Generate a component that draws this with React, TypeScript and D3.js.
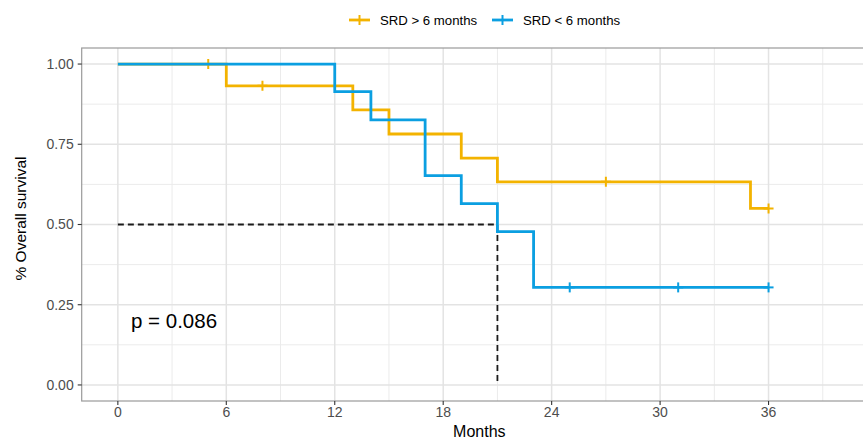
import React from "react";
import * as d3 from "d3";

// Data (step curves): times of change and survival after change
const groups = ["SRD > 6 months", "SRD < 6 months"];
const colors = ["#F3B300", "#0B9FE1"];

const srdLongTimes = [0, 6, 13, 15, 19, 21, 35, 36];
const srdLongSurv = [1.0, 0.932, 0.857, 0.782, 0.707, 0.633, 0.55, 0.55];
const srdLongCensorTimes = [5, 8, 27, 36];

const srdShortTimes = [0, 12, 14, 17, 19, 21, 23, 36];
const srdShortSurv = [1.0, 0.914, 0.826, 0.652, 0.565, 0.478, 0.304, 0.304];
const srdShortCensorTimes = [25, 31, 36];

const xTicks = [0, 6, 12, 18, 24, 30, 36];
const yTicks = [0, 0.25, 0.5, 0.75, 1.0];
const xMinor = [3, 9, 15, 21, 27, 33, 39];
const yMinor = [0.125, 0.375, 0.625, 0.875];
const medianTime = 21;
const pValueLabel = "p = 0.086";

const W = 863;
const H = 439;
const left = 81.7;
const right = 877;
const top = 48;
const bottom = 401;

function survAt(times: number[], surv: number[], t: number) {
  let v = surv[0];
  for (let i = 0; i < times.length; i++) if (times[i] <= t) v = surv[i];
  return v;
}

export default function App() {
  const x = d3.scaleLinear().domain([-2, 42]).range([left, right]);
  const y = d3.scaleLinear().domain([-0.05, 1.05]).range([bottom, top]);
  const line = d3
    .line<[number, number]>()
    .x((d) => x(d[0]))
    .y((d) => y(d[1]))
    .curve(d3.curveStepAfter);

  const series = [
    { times: srdLongTimes, surv: srdLongSurv, cens: srdLongCensorTimes },
    { times: srdShortTimes, surv: srdShortSurv, cens: srdShortCensorTimes },
  ];

  const font = "Liberation Sans, Arial, sans-serif";

  return (
    <svg
      width={W}
      height={H}
      style={{ position: "absolute", left: 0, top: 0, background: "#fff" }}
      fontFamily={font}
    >
      <defs>
        <clipPath id="panel">
          <rect x={left} y={top} width={right - left} height={bottom - top} />
        </clipPath>
      </defs>
      {/* grid */}
      <g clipPath="url(#panel)">
        {xMinor.map((t) => (
          <line key={"xm" + t} x1={x(t)} x2={x(t)} y1={top} y2={bottom} stroke="#EBEBEB" strokeWidth={1} />
        ))}
        {yMinor.map((t) => (
          <line key={"ym" + t} x1={left} x2={right} y1={y(t)} y2={y(t)} stroke="#EBEBEB" strokeWidth={1} />
        ))}
        {xTicks.map((t) => (
          <line key={"xg" + t} x1={x(t)} x2={x(t)} y1={top} y2={bottom} stroke="#E3E3E3" strokeWidth={1.5} />
        ))}
        {yTicks.map((t) => (
          <line key={"yg" + t} x1={left} x2={right} y1={y(t)} y2={y(t)} stroke="#E3E3E3" strokeWidth={1.5} />
        ))}
        {/* median lines */}
        <path
          d={`M${x(0)},${y(0.5)}H${x(medianTime)}V${y(0)}`}
          fill="none"
          stroke="#1a1a1a"
          strokeWidth={1.8}
          strokeDasharray="6,4"
        />
        {series.map((s, i) => (
          <g key={i}>
            <path
              d={line(s.times.map((t, j) => [t, s.surv[j]] as [number, number])) || ""}
              fill="none"
              stroke={colors[i]}
              strokeWidth={2.8}
            />
            {s.cens.map((t) => {
              const cx = x(t);
              const cy = y(survAt(s.times, s.surv, t));
              return (
                <g key={t} stroke={colors[i]} strokeWidth={2}>
                  <line x1={cx - 5} x2={cx + 5} y1={cy} y2={cy} />
                  <line x1={cx} x2={cx} y1={cy - 5} y2={cy + 5} />
                </g>
              );
            })}
          </g>
        ))}
      </g>
      {/* panel border */}
      <rect x={left} y={top} width={right - left} height={bottom - top} fill="none" stroke="#9A9A9A" strokeWidth={1.2} />
      {/* y axis */}
      {yTicks.map((t) => (
        <g key={"yt" + t}>
          <line x1={left - 4} x2={left} y1={y(t)} y2={y(t)} stroke="#333" strokeWidth={1.1} />
          <text x={left - 8} y={y(t)} dy="0.35em" textAnchor="end" fontSize={14} fill="#4D4D4D">
            {t.toFixed(2)}
          </text>
        </g>
      ))}
      {/* x axis */}
      {xTicks.map((t) => (
        <g key={"xt" + t}>
          <line x1={x(t)} x2={x(t)} y1={bottom} y2={bottom + 4} stroke="#333" strokeWidth={1.1} />
          <text x={x(t)} y={bottom + 16} textAnchor="middle" fontSize={14} fill="#4D4D4D">
            {t}
          </text>
        </g>
      ))}
      <text x={(left + right) / 2} y={437} textAnchor="middle" fontSize={16} fill="#000">
        Months
      </text>
      <text
        transform={`translate(26,${(top + bottom) / 2 - 6}) rotate(-90)`}
        textAnchor="middle"
        fontSize={15.5}
        fill="#000"
      >
        % Overall survival
      </text>
      {/* p value */}
      <text x={131} y={328} fontSize={20.5} fill="#000">
        {pValueLabel}
      </text>
      {/* legend */}
      {groups.map((g, i) => {
        const lx = [349, 492][i];
        return (
          <g key={g}>
            <line x1={lx} x2={lx + 21} y1={20} y2={20} stroke={colors[i]} strokeWidth={2.8} />
            <line x1={lx + 10.5} x2={lx + 10.5} y1={15} y2={25} stroke={colors[i]} strokeWidth={2} />
            <text x={lx + 31} y={20} dy="0.35em" fontSize={13.2} fill="#000">
              {g}
            </text>
          </g>
        );
      })}
    </svg>
  );
}
